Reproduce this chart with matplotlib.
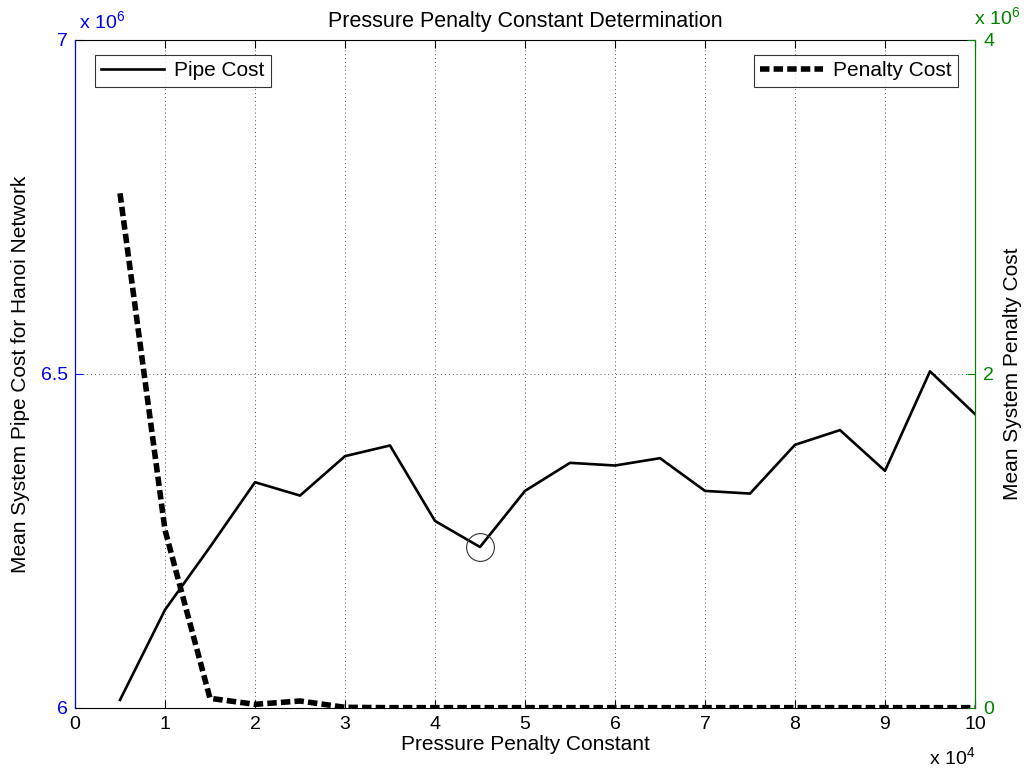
import numpy as np
import matplotlib
matplotlib.use("Agg")
import matplotlib.pyplot as plt

plt.rcParams['font.family'] = ['Liberation Sans', 'DejaVu Sans']
plt.rcParams['mathtext.fontset'] = 'custom'
plt.rcParams['mathtext.rm'] = 'Liberation Sans'

# Data (raw units)
penalty_constant = [5000, 10000, 15000, 20000, 25000, 30000, 35000, 40000, 45000, 50000,
                    55000, 60000, 65000, 70000, 75000, 80000, 85000, 90000, 95000, 100000]
pipe_cost = [6.012e6, 6.147e6, 6.241e6, 6.338e6, 6.318e6, 6.377e6, 6.393e6, 6.280e6, 6.241e6, 6.325e6,
             6.367e6, 6.363e6, 6.374e6, 6.325e6, 6.321e6, 6.394e6, 6.416e6, 6.355e6, 6.504e6, 6.440e6]
penalty_cost = [3.082e6, 1.066e6, 0.058e6, 0.022e6, 0.042e6, 0.004e6, 0.002e6, 0.002e6, 0.002e6, 0.002e6,
                0.002e6, 0.002e6, 0.002e6, 0.002e6, 0.002e6, 0.002e6, 0.002e6, 0.002e6, 0.002e6, 0.002e6]
best_constant = 45000
best_pipe_cost = 6.241e6

x_ticks = [0, 1, 2, 3, 4, 5, 6, 7, 8, 9, 10]
left_ticks = [6, 6.5, 7]
left_tick_labels = ['6', '6.5', '7']
right_ticks = [0, 2, 4]
right_tick_labels = ['0', '2', '4']

BLUE = '#0000ee'
GREEN = '#008000'
FS = 15
TFS = 14

fig = plt.figure(figsize=(10.28, 7.72), dpi=100)
ax1 = fig.add_axes([75/1028, 64/772, 900/1028, 668/772])
ax2 = ax1.twinx()

x = np.array(penalty_constant) / 1e4
p = np.array(pipe_cost) / 1e6
q = np.array(penalty_cost) / 1e6

l1, = ax1.plot(x, p, color='black', lw=1.9, label='Pipe Cost')
ax1.plot([best_constant / 1e4], [best_pipe_cost / 1e6], marker='o', markersize=20,
         markerfacecolor='none', markeredgecolor='#333333', markeredgewidth=0.8, ls='none')
l2, = ax2.plot(x, q, color='black', lw=4.0, ls=(0, (1.7, 0.75)), label='Penalty Cost')

ax1.set_xlim(0, 10)
ax1.set_ylim(6, 7)
ax2.set_ylim(0, 4)

ax1.set_xticks(x_ticks)
ax1.set_xticklabels([str(t) for t in x_ticks], fontsize=TFS)
ax1.set_yticks(left_ticks)
ax1.set_yticklabels(left_tick_labels, fontsize=TFS, color=BLUE)
ax2.set_yticks(right_ticks)
ax2.set_yticklabels(right_tick_labels, fontsize=TFS, color=GREEN)

ax1.tick_params(axis='x', direction='in', top=True, length=6, width=0.8, pad=6)
ax1.tick_params(axis='y', direction='in', length=6, width=0.8, colors=BLUE, labelcolor=BLUE, pad=5)
ax2.tick_params(axis='y', direction='in', length=6, width=0.8, colors=GREEN, labelcolor=GREEN, pad=6)

for s in ['top', 'bottom']:
    ax1.spines[s].set_color('black')
ax2.spines['left'].set_color(BLUE)
ax1.spines['left'].set_color(BLUE)
ax2.spines['right'].set_color(GREEN)
ax1.spines['right'].set_color(GREEN)
ax2.spines['top'].set_visible(False)
ax2.spines['bottom'].set_visible(False)

ax1.grid(True, which='major', ls=(0, (1, 3)), color='#555555', lw=0.7)

ax1.set_xlabel('Pressure Penalty Constant', fontsize=FS, labelpad=1)
ax1.set_ylabel('Mean System Pipe Cost for Hanoi Network', fontsize=FS, labelpad=8)
ax2.set_ylabel('Mean System Penalty Cost', fontsize=FS, labelpad=6)
ax1.set_title('Pressure Penalty Constant Determination', fontsize=15.5, pad=9)

# exponent labels
fig.text(79/1028, 1 - 22/772, r'x 10$^{6}$', color=BLUE, fontsize=TFS, ha='left', va='center')
fig.text(974/1028, 1 - 18/772, r'x 10$^{6}$', color=GREEN, fontsize=TFS, ha='left', va='center')
fig.text(929/1028, 1 - 758/772, r'x 10$^{4}$', color='black', fontsize=TFS, ha='left', va='center')

leg1 = ax1.legend(handles=[l1], loc='upper left', bbox_to_anchor=(20/900, 1 - 15/668),
                  fontsize=FS, frameon=True, fancybox=False, borderaxespad=0,
                  handlelength=3.0, borderpad=0.3, handletextpad=0.5)
leg1.get_frame().set_edgecolor('black')
leg1.get_frame().set_linewidth(0.8)
leg2 = ax2.legend(handles=[l2], loc='upper right', bbox_to_anchor=(1 - 17/900, 1 - 15/668),
                  fontsize=FS, frameon=True, fancybox=False, borderaxespad=0,
                  handlelength=3.0, borderpad=0.3, handletextpad=0.5)
leg2.get_frame().set_edgecolor('black')
leg2.get_frame().set_linewidth(0.8)

fig.savefig('out.png', dpi=100)
